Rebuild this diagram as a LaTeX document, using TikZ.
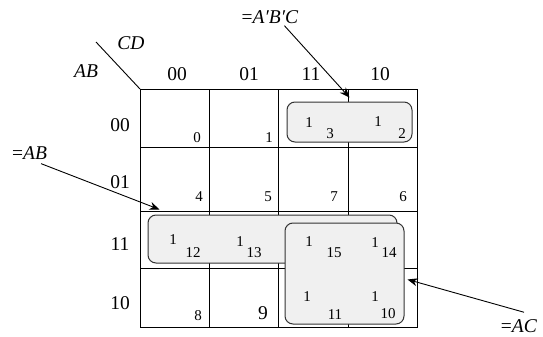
\documentclass[tikz,border=0pt]{standalone}
\usepackage{fontspec}
\setmainfont{Liberation Serif}
\usetikzlibrary{arrows.meta}

\definecolor{groupfill}{HTML}{F0F0F0}
\definecolor{groupline}{HTML}{333333}

\begin{document}
\begin{tikzpicture}[x=1pt, y=-1pt,
    head/.style={inner sep=0pt, font=\fontsize{19.5}{22}\selectfont},
    var/.style={inner sep=0pt, font=\fontsize{19.5}{22}\selectfont\itshape},
    cellnum/.style={inner sep=0pt, font=\fontsize{15}{17}\selectfont},
    group/.style={draw=groupline, fill=groupfill, line width=1pt, rounded corners=8pt, inner sep=0pt},
    pointer/.style={-{Stealth[length=10pt, width=8pt]}, line width=0.9pt}]
    \useasboundingbox (0,0) rectangle (543,337);

    % Draw grid
    \draw[line width=1pt] (140,89) rectangle (417,327);
    \foreach \x in {209, 278, 348}
        \draw[line width=1pt] (\x,89) -- (\x,327);
    \foreach \y in {147, 211, 268}
        \draw[line width=1pt] (140,\y) -- (417,\y);
    \draw[line width=0.9pt] (96,42) -- (140,89);

    % Headers
    \node[var] (cd) at (131,43) {CD};
    \node[var] (ab) at (86,71) {AB};
    \node[head] (c00) at (177,74) {00};
    \node[head] (c01) at (249,74) {01};
    \node[head] (c11) at (311,74) {11};
    \node[head] (c10) at (380,74) {10};
    \node[head] (r00) at (120,125) {00};
    \node[head] (r01) at (120,182) {01};
    \node[head] (r11) at (120,244) {11};
    \node[head] (r10) at (120,303) {10};

    % Cell numbers
    \node[cellnum] (m0) at (197,138) {0};
    \node[cellnum] (m1) at (269,138) {1};
    \node[cellnum] (m4) at (199,197) {4};
    \node[cellnum] (m5) at (268,197) {5};
    \node[cellnum] (m7) at (334,197) {7};
    \node[cellnum] (m6) at (403,197) {6};
    \node[cellnum] (m8) at (198,316) {8};
    \node[head] (m9) at (263,313) {9};

    % Draw groups
    \node[group, minimum width=125pt, minimum height=40pt] (gABC) at (349.5,122) {};
    \node[group, minimum width=249pt, minimum height=48pt] (gAB) at (272.5,239) {};
    \node[group, minimum width=119pt, minimum height=101pt] (gAC) at (344.5,273.5) {};

    % Ones and minterms inside groups
    \node[cellnum] (o3) at (309,123) {1};
    \node[cellnum] (n3) at (330,134) {3};
    \node[cellnum] (o2) at (378,122) {1};
    \node[cellnum] (n2) at (402,134) {2};
    \node[cellnum] (o12) at (173,240) {1};
    \node[cellnum] (n12) at (193,253) {12};
    \node[cellnum] (o13) at (240,242) {1};
    \node[cellnum] (n13) at (254,253) {13};
    \node[cellnum] (o15) at (309,242) {1};
    \node[cellnum] (n15) at (334,253) {15};
    \node[cellnum] (o14) at (375,243) {1};
    \node[cellnum] (n14) at (389,253) {14};
    \node[cellnum] (o11) at (307,297) {1};
    \node[cellnum] (n11) at (335,315) {11};
    \node[cellnum] (o10) at (375,297) {1};
    \node[cellnum] (n10) at (388,314) {10};

    % Labels
    \node[head] (lABC) at (270,17) {=\textit{A′B′C}};
    \node[head] (lAB) at (29.5,153) {=\textit{AB}};
    \node[head] (lAC) at (519,326) {=\textit{AC}};

    % Draw pointers
    \draw[pointer] ([xshift=-14pt, yshift=-2pt]lABC.south east) -- ([yshift=4pt]gABC.north);
    \draw[pointer] ([xshift=-6pt, yshift=-4pt]lAB.south east) -- ([shift={(12pt,5pt)}]gAB.north west);
    \draw[pointer] ([shift={(5pt,7pt)}]lAC.north) -- ([shift={(3pt,-6pt)}]gAC.east);
\end{tikzpicture}
\end{document}
